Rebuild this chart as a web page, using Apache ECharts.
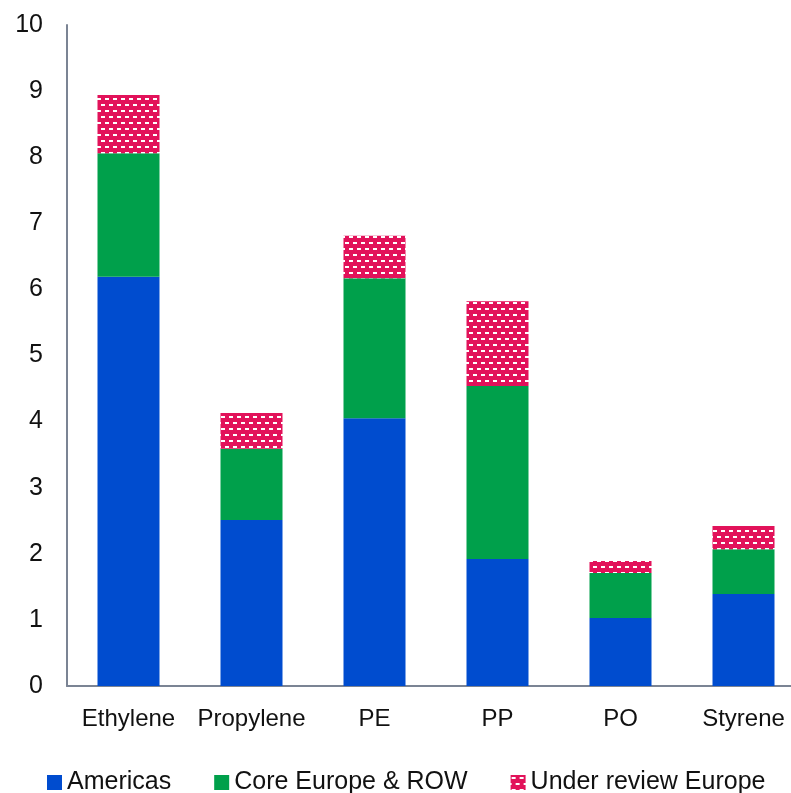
<!DOCTYPE html>
<html>
<head>
<meta charset="utf-8">
<script src="https://cdn.jsdelivr.net/npm/echarts@6/dist/echarts.min.js"></script>
<style>
  html, body { margin: 0; padding: 0; background: #fff; overflow: hidden; }
  #chart { width: 810px; height: 793px; }
</style>
</head>
<body>
<div id="chart"></div>
<script>
// Capacity by product and region (stacked)
const categories = ['Ethylene', 'Propylene', 'PE', 'PP', 'PO', 'Styrene'];
const americas = [6.19, 2.51, 4.05, 1.92, 1.03, 1.39];
const coreEurope = [1.87, 1.08, 2.12, 2.62, 0.68, 0.68];
const underReview = [0.88, 0.54, 0.64, 1.28, 0.18, 0.35];
const yTicks = [0, 1, 2, 3, 4, 5, 6, 7, 8, 9, 10];

// Crimson brick-dash fill for the "under review" segment
function makePattern() {
  const c = document.createElement('canvas');
  c.width = 8; c.height = 12;
  const g = c.getContext('2d');
  g.fillStyle = '#e2125a';
  g.fillRect(0, 0, 8, 12);
  g.fillStyle = '#ffffff';
  g.fillRect(1, 2, 4, 2);
  g.fillRect(5, 8, 3, 2);
  g.fillRect(0, 8, 1, 2);
  return c;
}
const pattern = { image: makePattern(), repeat: 'repeat' };

const font = 'Liberation Sans, Arial, sans-serif';
const chart = echarts.init(document.getElementById('chart'));
chart.setOption({
  animation: false,
  backgroundColor: '#ffffff',
  grid: { left: 67, top: 25, right: 5, bottom: 107 },
  legend: {
    left: 42, top: 765,
    itemWidth: 15, itemHeight: 15, itemGap: 43,
    icon: 'rect',
    textStyle: { fontFamily: font, fontSize: 25, color: '#111' },
    data: ['Americas', 'Core Europe & ROW', 'Under review Europe']
  },
  xAxis: {
    type: 'category',
    data: categories,
    axisLine: { lineStyle: { color: '#7b8494', width: 2 } },
    axisTick: { show: false },
    axisLabel: { interval: 0, fontFamily: font, fontSize: 24, color: '#111', margin: 21 }
  },
  yAxis: {
    type: 'value',
    min: yTicks[0], max: yTicks[yTicks.length - 1], interval: 1,
    axisLine: { show: true, lineStyle: { color: '#7b8494', width: 2 } },
    axisTick: { show: false },
    splitLine: { show: false },
    axisLabel: { fontFamily: font, fontSize: 25, color: '#111', margin: 24 }
  },
  series: [
    { name: 'Americas', type: 'bar', stack: 't', barWidth: 62, data: americas,
      itemStyle: { color: '#004ccf' } },
    { name: 'Core Europe & ROW', type: 'bar', stack: 't', barWidth: 62, data: coreEurope,
      itemStyle: { color: '#00a04b' } },
    { name: 'Under review Europe', type: 'bar', stack: 't', barWidth: 62, data: underReview,
      itemStyle: { color: pattern } }
  ]
});
</script>
</body>
</html>
